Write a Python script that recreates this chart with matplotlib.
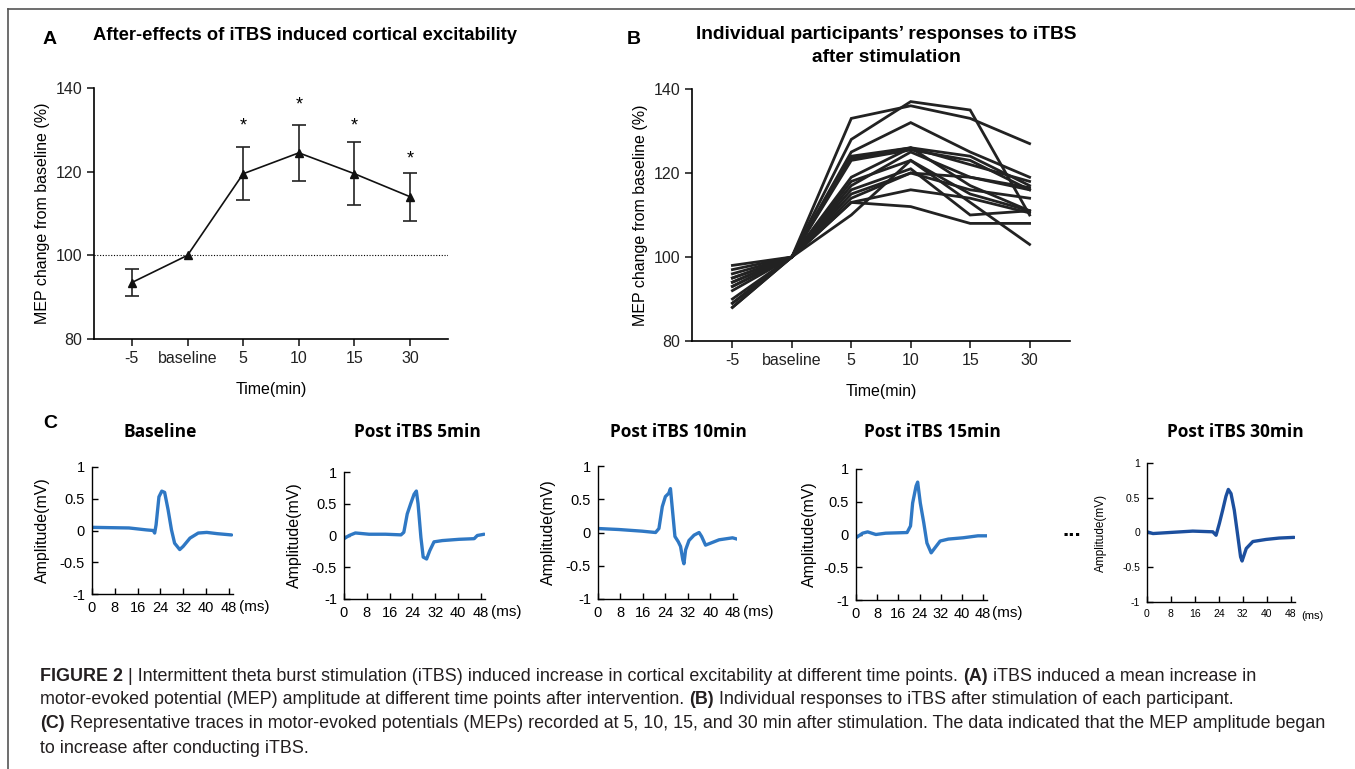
import matplotlib.pyplot as plt
import numpy as np
from matplotlib.lines import Line2D

plt.rcParams['font.family'] = ['Liberation Sans', 'DejaVu Sans']

W, H = 1355, 769

# panel A: mean MEP change
time_labels = ['-5', 'baseline', '5', '10', '15', '30']
mean_mep = [93.5, 100, 119.5, 124.5, 119.5, 114]
sem_mep = [3.3, 0, 6.3, 6.7, 7.5, 5.7]
star_idx = [2, 3, 4, 5]
star_y = [131, 136, 131, 123]

# panel B: individual participants (-5, baseline, 5, 10, 15, 30)
p01 = [90, 100, 128, 137, 135, 110]
p02 = [94, 100, 133, 136, 133, 127]
p03 = [88, 100, 125, 132, 125, 119]
p04 = [95, 100, 124, 126, 124, 117]
p05 = [93, 100, 123, 125.5, 123, 116]
p06 = [98, 100, 123.5, 126, 122, 118]
p07 = [89, 100, 119, 126, 117, 111]
p08 = [97, 100, 117, 125, 119, 116]
p09 = [93, 100, 118, 123, 113, 103]
p10 = [89, 100, 116, 121, 110, 111]
p11 = [95, 100, 115, 120, 119, 116.5]
p12 = [94, 100, 114, 120, 116, 114]
p13 = [92, 100, 113, 116, 114, 110.5]
p14 = [88, 100, 110, 123, 115, 111]
p15 = [96, 100, 113, 112, 108, 108]
participants = [p01, p02, p03, p04, p05, p06, p07, p08, p09, p10, p11, p12, p13, p14, p15]

# panel C: representative MEP traces (ms, mV)
base_t = [0, 6, 13, 19, 21.5, 22, 22.5, 23.5, 24.5, 25.5, 26.7, 27.9, 29, 30.8, 32, 34.4, 37.3, 40.3, 44, 49]
base_v = [0.05, 0.045, 0.04, 0.01, 0.0, -0.04, 0.09, 0.53, 0.62, 0.6, 0.33, 0.01, -0.2, -0.3, -0.25, -0.12, -0.04, -0.03, -0.05, -0.07]
m5_t = [0, 1.8, 4, 8.8, 14.6, 20, 21, 22.2, 23.4, 24.6, 25.4, 26, 27, 27.8, 29, 30.1, 31.6, 34.5, 40.4, 45.7, 46.8, 49.2]
m5_v = [-0.05, 0, 0.04, 0.02, 0.02, 0.01, 0.05, 0.34, 0.5, 0.65, 0.7, 0.5, -0.03, -0.34, -0.37, -0.24, -0.1, -0.08, -0.06, -0.05, 0, 0.02]
m10_t = [0, 7.4, 15.7, 20.5, 21.7, 22.9, 24, 25.2, 25.8, 26.4, 27.4, 28.6, 29.4, 30.2, 30.6, 31.2, 32.4, 34.2, 36, 36.9, 38.3, 40.1, 43.1, 47.9, 49.6]
m10_v = [0.06, 0.045, 0.02, 0, 0.06, 0.39, 0.54, 0.59, 0.66, 0.39, -0.06, -0.14, -0.21, -0.41, -0.47, -0.26, -0.12, -0.04, 0, -0.06, -0.19, -0.16, -0.11, -0.08, -0.1]
m15_t = [0, 2.5, 4.4, 7.5, 11.2, 19.3, 20.6, 21.4, 22.7, 23.3, 24.3, 25.6, 26.8, 28.4, 29.9, 31.8, 34.9, 40.5, 46.1, 50.5]
m15_v = [-0.05, 0.02, 0.04, 0, 0.02, 0.03, 0.13, 0.48, 0.74, 0.8, 0.48, 0.18, -0.13, -0.28, -0.2, -0.1, -0.07, -0.05, -0.02, -0.02]
m30_t = [0, 2, 7.6, 15.3, 22, 23.1, 24.2, 25.3, 26.4, 27.2, 28.1, 29.2, 30.4, 31.3, 31.8, 33.2, 35.4, 39.8, 44.2, 49.2]
m30_v = [0.01, -0.015, 0, 0.02, 0.01, -0.04, 0.13, 0.32, 0.52, 0.62, 0.56, 0.32, -0.06, -0.35, -0.41, -0.23, -0.13, -0.1, -0.08, -0.07]

fig = plt.figure(figsize=(W / 100, H / 100), dpi=100)


def rect(l, r, t, b):
    return [l / W, 1 - b / H, (r - l) / W, (b - t) / H]


def style_line_axes(ax):
    ax.spines['top'].set_visible(False)
    ax.spines['right'].set_visible(False)
    ax.spines['left'].set_linewidth(1.2)
    ax.spines['bottom'].set_linewidth(1.2)
    ax.set_xlim(-0.68, 5.68)
    ax.set_ylim(80, 140)
    ax.set_xticks(range(6))
    ax.set_xticklabels(time_labels)
    ax.set_yticks([80, 100, 120, 140])
    ax.tick_params(direction='out', length=5, width=1.2, labelsize=11.5, colors='#222222')
    ax.set_ylabel('MEP change from baseline (%)', fontsize=11.5)
    ax.set_xlabel('Time(min)', fontsize=11.5, labelpad=12)


# ---- A
axA = fig.add_axes(rect(94, 448, 88, 339))
x = np.arange(6)
axA.axhline(100, ls=(0, (1, 1.5)), lw=0.8, color='k')
keep = [i for i in range(6) if sem_mep[i] > 0]
axA.errorbar([x[i] for i in keep], [mean_mep[i] for i in keep], yerr=[sem_mep[i] for i in keep],
             fmt='none', ecolor='#222222', elinewidth=1.2, capsize=5, capthick=1.2)
axA.plot(x, mean_mep, '-^', color='#111111', lw=1.2, ms=6)
for i, sy in zip(star_idx, star_y):
    axA.text(i, sy, '*', ha='center', va='center', fontsize=13)
style_line_axes(axA)

# ---- B
axB = fig.add_axes(rect(692, 1070, 89, 341))
for p in participants:
    axB.plot(x, p, color='#222222', lw=2.0, solid_joinstyle='miter')
style_line_axes(axB)

fig.text(43 / W, 1 - 40 / H, 'A', fontsize=14, fontweight='bold', va='center')
fig.text(627 / W, 1 - 40 / H, 'B', fontsize=14, fontweight='bold', va='center')
fig.text(43 / W, 1 - 423 / H, 'C', fontsize=14, fontweight='bold', va='center')
fig.text(305 / W, 1 - 35 / H, 'After-effects of iTBS induced cortical excitability',
         fontsize=13.2, fontweight='bold', ha='center', va='center')
fig.text(886 / W, 1 - 46 / H, 'Individual participants\u2019 responses to iTBS\nafter stimulation',
         fontsize=13.8, fontweight='bold', ha='center', va='center', linespacing=1.5)

# ---- C
c_titles = ['Baseline', 'Post iTBS 5min', 'Post iTBS 10min', 'Post iTBS 15min', 'Post iTBS 30min']
c_title_x = [160, 417, 678, 932, 1235]
c_rects = [(92, 233, 467, 594), (344, 485, 472, 599), (598, 737, 466, 599),
           (856, 987, 469, 600), (1147, 1295, 463, 602)]
c_t = [base_t, m5_t, m10_t, m15_t, m30_t]
c_v = [base_v, m5_v, m10_v, m15_v, m30_v]
c_col = ['#2f78c4', '#2f78c4', '#2f78c4', '#2f78c4', '#1c4f9e']

for k in range(5):
    l, r, t, b = c_rects[k]
    small = k == 4
    ax = fig.add_axes(rect(l, r, t, b))
    ax.plot(c_t[k], c_v[k], color=c_col[k], lw=2.4, solid_capstyle='round')
    ax.set_xlim(0, 49.5)
    ax.set_ylim(-1, 1)
    ax.spines['top'].set_visible(False)
    ax.spines['right'].set_visible(False)
    for s in ['left', 'bottom']:
        ax.spines[s].set_linewidth(1.0)
    ax.set_xticks(range(0, 49, 8))
    ax.set_yticks([-1, -0.5, 0, 0.5, 1])
    ax.set_yticklabels(['-1', '-0.5', '0', '0.5', '1'])
    fs = 7.5 if small else 10.5
    ax.tick_params(direction='in', length=4, width=1.0, labelsize=fs, pad=5)
    ax.set_ylabel('Amplitude(mV)', fontsize=8.5 if small else 11.5)
    ax.yaxis.set_label_coords(-0.3 if not small else -0.27, 0.5)
    ax.text(1.04, -0.1, '(ms)', transform=ax.transAxes, fontsize=fs + 0.5, va='center', ha='left')
    fig.text(c_title_x[k] / W, 1 - 432 / H, c_titles[k], fontsize=12.5, fontweight='bold',
             ha='center', va='center', family=['Open Sans', 'DejaVu Sans'])

fig.text(1072 / W, 1 - 531 / H, '...', fontsize=16, fontweight='bold', ha='center', va='center')

# ---- caption
renderer = fig.canvas.get_renderer()
cap_col = '#231f20'


def rich_line(x0, y0, parts, size=12.9):
    xx = x0
    for txt, bold in parts:
        tt = fig.text(xx / W, 1 - y0 / H, txt, fontsize=size, color=cap_col,
                      fontweight='bold' if bold else 'normal', va='baseline')
        xx += tt.get_window_extent(renderer).width


rich_line(40, 681, [('FIGURE 2', True),
                    (' | Intermittent theta burst stimulation (iTBS) induced increase in cortical excitability at different time points. ', False),
                    ('(A)', True), (' iTBS induced a mean increase in', False)])
rich_line(40, 704, [('motor-evoked potential (MEP) amplitude at different time points after intervention. ', False),
                    ('(B)', True), (' Individual responses to iTBS after stimulation of each participant.', False)])
rich_line(40, 728, [('(C)', True),
                    (' Representative traces in motor-evoked potentials (MEPs) recorded at 5, 10, 15, and 30 min after stimulation. The data indicated that the MEP amplitude began', False)])
rich_line(40, 753, [('to increase after conducting iTBS.', False)])

# frame
fig.add_artist(Line2D([8 / W, 8 / W], [0, 1 - 9 / H], color='#555555', lw=1.2))
fig.add_artist(Line2D([8 / W, 1], [1 - 9 / H, 1 - 9 / H], color='#555555', lw=1.2))

fig.savefig('out.png', dpi=100)
